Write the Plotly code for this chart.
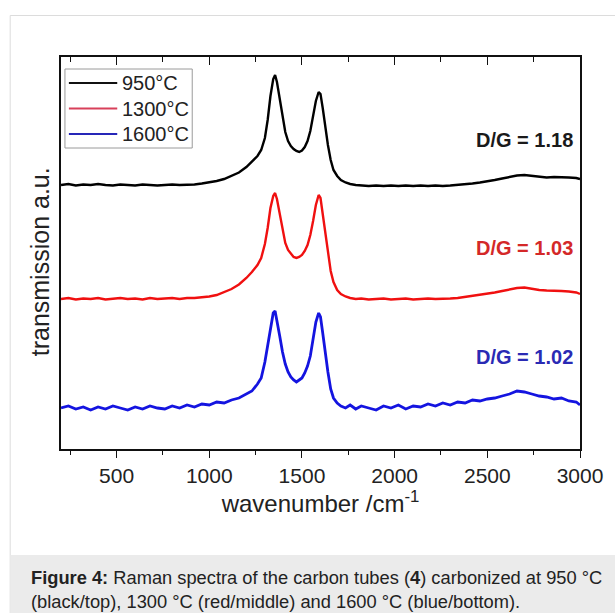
import plotly.graph_objects as go

wavenumber = [200, 240, 280, 320, 360, 400, 440, 480, 520, 560, 600, 640, 680, 720, 760, 800, 840, 880,
              920, 960, 1000, 1040, 1080, 1120, 1160, 1200, 1230, 1260, 1280, 1300, 1315, 1330, 1345, 1355,
              1365, 1380, 1395, 1410, 1425, 1440, 1455, 1470, 1485, 1500, 1515, 1530, 1545, 1560, 1575, 1590,
              1600, 1612, 1625, 1640, 1655, 1670, 1690, 1710, 1735, 1760, 1790, 1820, 1860, 1900, 1940, 1980,
              2020, 2060, 2100, 2140, 2180, 2220, 2260, 2300, 2340, 2380, 2420, 2460, 2500, 2540, 2580, 2620,
              2660, 2700, 2740, 2780, 2820, 2860, 2900, 2940, 2980, 3000]

t950 = [263, 264, 262.5, 263.5, 263, 264, 263, 262.5, 263.5, 263, 262.5, 263.5, 263, 262.5, 263, 263.5, 263, 263,
        263.5, 264.5, 265.5, 267, 269, 272, 275.5, 281, 286, 292, 298, 310, 328, 352, 369, 373,
        366, 348, 330, 316, 307, 302, 299, 297, 296, 297.5, 301, 307, 317, 331, 347, 356,
        354, 340, 322, 303, 288, 278, 272, 268, 265.5, 264, 263, 262.5, 262, 262.5, 262, 262.5,
        262, 262.5, 262, 262.5, 262, 262.5, 262, 262.5, 263, 263.5, 264.5, 265.5, 266.5, 268, 269.5, 271,
        272.5, 273, 272, 271, 270.5, 271, 271, 270.5, 270, 269]

t1300 = [149, 150, 148.5, 149.5, 149, 150, 148.5, 149.5, 150, 149, 149.5, 148.5, 150, 149, 149.5, 150, 149, 150,
         150, 150.5, 151.5, 153, 156, 159, 163.5, 170, 176, 183, 190, 204, 220, 240, 252, 255,
         249, 233, 217, 205, 198, 194, 191, 190, 191, 193, 197, 203, 213, 227, 243, 253,
         250, 234, 215, 195, 177, 166, 158, 154, 151.5, 150, 149, 149.5, 148.5, 149, 149.5, 148.5,
         149, 149.5, 148.5, 149, 149.5, 149, 149, 149.5, 150, 151, 152, 153, 154, 155.5, 157, 158.5,
         160, 160.5, 159, 158, 157.5, 157.5, 157, 156.5, 155.5, 154]

t1600 = [40, 42, 39, 41, 38, 41, 39, 42, 40, 38, 41, 39, 42, 40, 39, 42, 40, 43,
         41, 44, 43, 46, 45, 48, 50, 54, 57, 64, 70, 86, 103, 122, 135, 137,
         128, 112, 96, 84, 76, 71, 68, 66, 68, 70, 75, 82, 92, 108, 126, 135,
         131, 115, 96, 76, 59, 50, 45, 42, 40, 43, 39, 42, 40, 38, 42, 40,
         43, 39, 42, 41, 44, 42, 45, 43, 46, 45, 48, 47, 49, 50, 52, 54,
         57, 56, 54, 52, 51, 49, 50, 47, 46, 43]

series_names = ["950°C", "1300°C", "1600°C"]
series_colors = ["#000000", "#f01010", "#1414e0"]
legend_line_colors = ["#111111", "#d8405a", "#2626b8"]
ratio_labels = ["D/G = 1.18", "D/G = 1.03", "D/G = 1.02"]
ratio_colors = ["#1a1a1a", "#d42828", "#2a2ab4"]
tick_values = [500, 1000, 1500, 2000, 2500, 3000]
minor_values = [250, 750, 1250, 1750, 2250, 2750]

FONT = "Liberation Sans, Arial, sans-serif"

W, H = 615, 613
L, R, T, B = 61, 587, 57, 449
pw, ph = R - L, B - T


def px_x(p):
    return (p - L) / pw


def px_y(p):
    return (B - p) / ph


fig = go.Figure()
for name, col, ys, w in zip(series_names, series_colors, [t950, t1300, t1600], [2.4, 2.4, 2.8]):
    fig.add_trace(go.Scatter(x=wavenumber, y=ys, mode="lines", name=name,
                             line=dict(color=col, width=w), showlegend=False))

# invisible trace carrying the top (inside) tick axis
fig.add_trace(go.Scatter(x=[200, 3000], y=[0, 0], xaxis="x2", mode="lines",
                         line=dict(width=0), showlegend=False, hoverinfo="skip"))

annotations = []
for lab, col, yp in zip(ratio_labels, ratio_colors, [140, 248, 357]):
    annotations.append(dict(text="<b>" + lab + "</b>", xref="paper", yref="paper",
                            x=px_x(582), y=px_y(yp), xanchor="right", yanchor="middle",
                            showarrow=False, font=dict(family=FONT, size=20, color=col)))

shapes = [
    dict(type="rect", xref="paper", yref="paper", x0=px_x(9.5), x1=px_x(640), y0=px_y(640), y1=px_y(15.5),
         line=dict(color="#dcdcdc", width=1), fillcolor="rgba(0,0,0,0)", layer="below"),
    dict(type="rect", xref="paper", yref="paper", x0=px_x(10), x1=px_x(640), y0=px_y(640), y1=px_y(555),
         line=dict(width=0), fillcolor="#ebebeb", layer="below"),
    # legend box
    dict(type="rect", xref="paper", yref="paper", x0=px_x(65), x1=px_x(194), y0=px_y(148), y1=px_y(69),
         line=dict(color="#9a9a9a", width=1), fillcolor="white", layer="above"),
]

for i, (name, lc) in enumerate(zip(series_names, legend_line_colors)):
    yy = 83 + i * 25.5
    shapes.append(dict(type="line", xref="paper", yref="paper", x0=px_x(69), x1=px_x(118),
                       y0=px_y(yy), y1=px_y(yy), line=dict(color=lc, width=2.2), layer="above"))
    annotations.append(dict(text=name, xref="paper", yref="paper", x=px_x(121), y=px_y(yy),
                            xanchor="left", yanchor="middle", showarrow=False,
                            font=dict(family=FONT, size=20, color="#222222")))

# y-axis title placed as in the reference (slightly below plot centre)
annotations.append(dict(text="transmission a.u.", xref="paper", yref="paper",
                        x=px_x(40), y=px_y(262), xanchor="center", yanchor="middle",
                        textangle=-90, showarrow=False,
                        font=dict(family=FONT, size=25, color="#222222")))

annotations.append(dict(
    text="<b>Figure 4:</b> Raman spectra of the carbon tubes (<b>4</b>) carbonized at 950 °C<br>"
         "(black/top), 1300 °C (red/middle) and 1600 °C (blue/bottom).",
    xref="paper", yref="paper", x=px_x(29), y=px_y(565), xanchor="left", yanchor="top",
    align="left", showarrow=False, font=dict(family=FONT, size=18.3, color="#222222")))

fig.update_layout(
    width=W, height=H,
    margin=dict(l=L, r=W - R, t=T, b=H - B, pad=0),
    paper_bgcolor="white", plot_bgcolor="white",
    font=dict(family=FONT, color="#222222"),
    showlegend=False,
    xaxis=dict(range=[200, 3000], showline=True, linecolor="#111111", linewidth=1.6, mirror=True,
               ticks="outside", ticklen=7, tickwidth=1.4, tickcolor="#111111",
               tickvals=tick_values, ticktext=[str(v) for v in tick_values],
               minor=dict(tickvals=minor_values, ticks="outside", ticklen=4,
                          tickwidth=1.2, tickcolor="#111111", showgrid=False),
               tickfont=dict(family=FONT, size=21, color="#222222"),
               showgrid=False, zeroline=False,
               title=dict(text="wavenumber /cm<sup>-1</sup>", standoff=8,
                          font=dict(family=FONT, size=24, color="#222222"))),
    xaxis2=dict(range=[200, 3000], overlaying="x", side="top", showline=False,
                ticks="inside", ticklen=8, tickwidth=1.4, tickcolor="#111111",
                tickvals=tick_values, showticklabels=False,
                minor=dict(tickvals=minor_values, ticks="inside", ticklen=5,
                           tickwidth=1.2, tickcolor="#111111", showgrid=False),
                showgrid=False, zeroline=False),
    yaxis=dict(range=[-1, 391], showline=True, linecolor="#111111", linewidth=1.6, mirror=True,
               ticks="", showticklabels=False, showgrid=False, zeroline=False),
    annotations=annotations,
    shapes=shapes,
)

fig.write_html("out.html")
